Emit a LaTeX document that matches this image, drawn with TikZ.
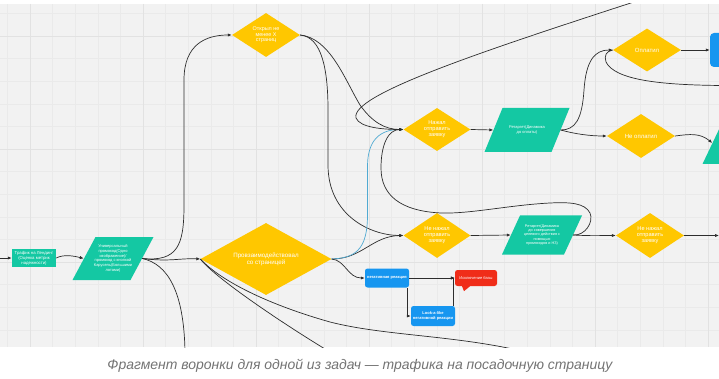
\documentclass[tikz,border=0pt]{standalone}
\usepackage{fontspec}
\setmainfont{Liberation Sans}
\usepackage{graphicx}
\usetikzlibrary{shapes.geometric,arrows.meta}
\definecolor{bgC}{RGB}{242,242,242}
\definecolor{gridA}{RGB}{234,234,234}
\definecolor{gridB}{RGB}{226,226,226}
\definecolor{yelC}{RGB}{255,199,0}
\definecolor{tealC}{RGB}{20,200,163}
\definecolor{blueC}{RGB}{22,150,240}
\definecolor{redC}{RGB}{240,45,25}
\definecolor{lineC}{RGB}{45,45,45}
\definecolor{lblueC}{RGB}{80,170,210}
\definecolor{capC}{RGB}{115,115,115}
% #1 cx, #2 cy, #3 total width, #4 height, #5 slant
\newcommand{\pgfillshape}[5]{\fill[tealC] ({#1-#3/2},{#2+#4/2}) -- ({#1-#3/2+#5},{#2-#4/2}) -- ({#1+#3/2},{#2-#4/2}) -- ({#1+#3/2-#5},{#2+#4/2}) -- cycle;}
\begin{document}
\begin{tikzpicture}[x=1pt,y=-1pt,
 conn/.style={draw=lineC,line width=0.7pt},
 arr/.style={conn,-{Latex[length=4pt,width=3.2pt]}},
 dia/.style={diamond,fill=yelC,text=white,inner sep=0pt,align=center},
 pgtext/.style={rectangle,text=white,inner sep=0pt,align=center},
 rbox/.style={rectangle,rounded corners=2.5pt,text=white,inner sep=0pt,align=center},
]
\useasboundingbox (0,0) rectangle (719,379);
\begin{scope}
\clip (0,4) rectangle (719,347);
\fill[bgC] (0,4) rectangle (719,347);
\foreach \i in {0,...,32} { \draw[gridA,line width=0.4pt] (7.4+22.6*\i,4) -- (7.4+22.6*\i,347); }
\foreach \i in {0,...,15} { \draw[gridA,line width=0.4pt] (0,13.4+22.6*\i) -- (719,13.4+22.6*\i); }
\foreach \v in {30,143,256,369,482,595,708} { \draw[gridB,line width=0.5pt] (\v,4) -- (\v,347); }
\foreach \v in {36,149,262} { \draw[gridB,line width=0.5pt] (0,\v) -- (719,\v); }

% parallelogram bodies
\pgfillshape{113}{258.5}{81}{43}{23}
\pgfillshape{527}{130}{85}{44}{18}
\pgfillshape{542}{235}{80}{39}{18}
\pgfillshape{745}{143}{85}{42}{20}

% nodes
\node[rbox,rounded corners=0pt,fill=tealC,minimum width=44pt,minimum height=18pt,font=\fontsize{4.3}{5}\selectfont] (tr) at (34,258) {Трафик на Лендинг\\(Оценка метрик\\надежности)};
\node[pgtext,minimum width=58pt,minimum height=43pt,font=\fontsize{4}{4.7}\selectfont] (p1) at (113,258.5) {Универсальный\\промокод(Одно\\изображение)/\\промокод с кнопкой\\Карусель(Большими\\лотами)};
\node[dia,aspect=1.55,minimum width=68pt,minimum height=44pt,font=\fontsize{5.4}{5.6}\selectfont] (d1) at (266,35) {Открыл не\\менее X\\страниц};
\node[dia,aspect=1.82,minimum width=131pt,minimum height=72pt,font=\fontsize{6.2}{7.3}\selectfont] (d2) at (266,259) {Провзаимодействовал\\со страницей};
\node[dia,aspect=1.56,minimum width=67pt,minimum height=43pt,font=\fontsize{5.6}{6}\selectfont] (d3) at (437,129.5) {Нажал\\отправить\\заявку};
\node[dia,aspect=1.5,minimum width=67pt,minimum height=45pt,font=\fontsize{5.6}{6}\selectfont] (d4) at (437,235.5) {Не нажал\\отправить\\заявку};
\node[pgtext,minimum width=67pt,minimum height=44pt,font=\fontsize{4}{5.3}\selectfont] (p2) at (527,130) {Ретаргет(Динамика\\до оплаты)};
\node[pgtext,minimum width=62pt,minimum height=39pt,font=\fontsize{3.8}{4.4}\selectfont] (p3) at (542,235) {Ретаргет(Динамика\\до совершения\\целевого действия с\\помощью\\промокодов и НЗ)};
\node[dia,aspect=1.58,minimum width=68pt,minimum height=43pt,font=\fontsize{6}{7}\selectfont] (d5) at (647,50) {Оплатил};
\node[dia,aspect=1.55,minimum width=68pt,minimum height=44pt,font=\fontsize{6}{7}\selectfont] (d6) at (641,136) {Не оплатил};
\node[dia,aspect=1.5,minimum width=68pt,minimum height=45pt,font=\fontsize{5.6}{6}\selectfont] (d7) at (650,235.5) {Не нажал\\отправить\\заявку};
\node[rbox,rounded corners=4pt,fill=blueC,minimum width=70pt,minimum height=34pt] (bR) at (745,50) {};
\node[pgtext,minimum width=65pt,minimum height=42pt] (p4) at (745,143) {};
\node[rbox,fill=blueC,minimum width=44pt,minimum height=19pt,font=\fontsize{4}{5}\selectfont\bfseries] (neg) at (387,278) {негативная реакция};
\node[rbox,fill=redC,minimum width=42pt,minimum height=16pt,font=\fontsize{4}{5}\selectfont] (red) at (476,278) {Исключение базы};
\fill[redC] ([xshift=-14pt]red.south) -- ([xshift=-6pt]red.south) -- ([xshift=-12pt,yshift=-5pt]red.south) -- cycle;
\node[rbox,fill=blueC,minimum width=44pt,minimum height=20pt,font=\fontsize{4}{4.8}\selectfont\bfseries] (look) at (433,316) {Look-a-like\\негативной реакции};

% free ends
\coordinate (in0) at (0,258);
\coordinate (bot1) at (185,352);
\coordinate (bot2) at (330,352);
\coordinate (bot3) at (526,352);
\coordinate (top1) at (640,0);
\coordinate (rt1) at (722,85.5);
\coordinate (rt2) at (719,235.5);

% connectors
\draw[arr] (in0) -- (tr.west);
\draw[arr] (tr.east) .. controls (64,254) and (74,256) .. (p1.west);
\draw[arr] (p1.east) .. controls (178,262) and (184,245) .. (184,205) -- (184,80) .. controls (184,45) and (205,35) .. (d1.west);
\draw[arr] (p1.east) .. controls (170,262) and (180,258) .. (d2.west);
\draw[conn] (p1.east) .. controls (168,264) and (184,292) .. (bot1);
\draw[conn] (bot2) .. controls (285,325) and (215,278) .. (d2.west);
\draw[conn] (bot3) .. controls (455,335) and (385,336) .. (330,322) .. controls (270,305) and (222,282) .. (d2.west);
\draw[arr] (d1.east) .. controls (330,38) and (345,80) .. (360,105) .. controls (372,122) and (385,129.5) .. (d3.west);
\draw[arr] (d1.east) .. controls (322,37) and (328,70) .. (328,110) -- (328,165) .. controls (328,215) and (370,235.5) .. (d4.west);
\draw[arr] (d2.east) .. controls (362,259) and (372,236) .. (d4.west);
\draw[arr,draw=lblueC] (d2.east) .. controls (355,258) and (367.5,250) .. (367.5,215) -- (367.5,165) .. controls (368,140) and (380,129.5) .. (d3.west);
\draw[arr] (d2.east) .. controls (345,260) and (348,278) .. (neg.west);
\draw[arr] (top1) .. controls (480,52) and (350,95) .. (356,118) .. controls (360,128) and (385,129.5) .. (d3.west);
\draw[arr] (p3.east) .. controls (585,236) and (594,222) .. (590,213) .. controls (585,203) and (570,202) .. (550,203) .. controls (510,205) and (470,214) .. (441,213) .. controls (400,211) and (381,195) .. (381,168) .. controls (381,145) and (388,129.5) .. (d3.west);
\draw[arr] (d3.east) -- (p2.west);
\draw[arr] (d4.east) -- (p3.west);
\draw[arr] (p2.east) .. controls (575,130) and (582,120) .. (584,90) .. controls (586,60) and (595,50) .. (d5.west);
\draw[arr] (p2.east) .. controls (575,134) and (590,136) .. (d6.west);
\draw[arr] (d5.east) -- (bR.west);
\draw[conn] (rt1) .. controls (660,85) and (615,80) .. (606,62) .. controls (604,56) and (606,51) .. (d5.west);
\draw[arr] (d6.east) .. controls (690,134) and (700,133) .. (p4.west);
\draw[arr] (p3.east) .. controls (590,236) and (600,235.5) .. (d7.west);
\draw[arr] (d7.east) -- (rt2);
\draw[arr] (neg.east) -- (red.west);
\draw[arr] ([xshift=-2pt]neg.south east) |- (look.west);
\draw[arr] ([xshift=-2pt]look.north east) |- (red.west);
\end{scope}
\node[text=capC,font=\fontsize{13}{15}\selectfont\itshape] (cap) at (360,366) {\resizebox{505pt}{!}{Фрагмент воронки для одной из задач — трафика на посадочную страницу}};
\end{tikzpicture}
\end{document}
